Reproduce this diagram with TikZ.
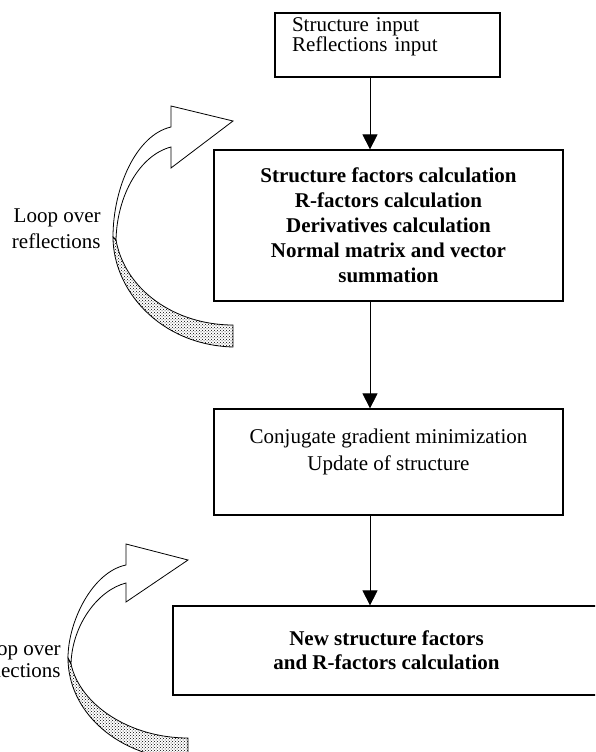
\documentclass[tikz,border=0pt]{standalone}
\usepackage{fontspec}
\setmainfont{Liberation Serif}
\usetikzlibrary{arrows.meta,patterns}

\tikzset{every picture/.style={line width=0.8pt}}
\tikzset{
	stepbox/.style={draw, line width=1.2pt, inner sep=0pt, align=center},
	looplabel/.style={anchor=east, align=right, inner sep=0pt},
	flow/.style={-{Triangle[length=15pt,width=15pt]}},
	ribbon/.style={fill=white, line width=0.8pt},
	ribbonback/.style={pattern=crosshatch dots, pattern color=black, line width=0.8pt},
}

\begin{document}
\begin{tikzpicture}[x=1pt,y=1pt,yscale=-1,xscale=1]
	\path[use as bounding box, clip] (0,0) rectangle (595,752);

	\node[stepbox, minimum width=225pt, minimum height=64pt, text width=191pt, align=left, text depth=41pt, font=\fontsize{21}{18}\selectfont] (inbox) at (387.5,45) {Structure input\\Reflections input};
	\node[stepbox, minimum width=349pt, minimum height=151pt, font=\bfseries\fontsize{21}{25}\selectfont] (calcbox) at (388.5,225.5) {Structure factors calculation\\R-factors calculation\\Derivatives calculation\\Normal matrix and vector\\summation};
	\node[stepbox, minimum width=349pt, minimum height=106pt, text depth=25pt, font=\fontsize{21}{27}\selectfont] (cgbox) at (388.5,462) {Conjugate gradient minimization\\Update of structure};
	\node[stepbox, minimum width=427pt, minimum height=89pt, font=\bfseries\fontsize{21}{24}\selectfont] (newbox) at (386.5,650.5) {New structure factors\\and R-factors calculation};

	\coordinate (spine) at (370,0);
	\draw[flow] (inbox.south -| spine) -- (calcbox.north -| spine);
	\draw[flow] (calcbox.south -| spine) -- (cgbox.north -| spine);
	\draw[flow] (cgbox.south -| spine) -- (newbox.north -| spine);

	% loop ribbons
	\draw[ribbon] (116,240) .. controls (117,195) and (140,155) .. (171,147) -- (171,168) -- (233,121) -- (171,106) -- (171,127) .. controls (136,135) and (113,188) .. (113,237) -- cycle;
	\draw[ribbonback] (113,237) .. controls (113,290) and (160,345) .. (233,347) -- (233,325) .. controls (175,325) and (125,290) .. (116,240) -- cycle;
	\draw[ribbon] (71,664) .. controls (72,625) and (98,590) .. (126,583) -- (126,602) -- (188,560) -- (126,544) -- (126,565) .. controls (92,572) and (68,622) .. (68,658) -- cycle;
	\draw[ribbonback] (68,658) .. controls (68,712) and (118,758) .. (188,760) -- (188,738) .. controls (130,738) and (80,705) .. (71,664) -- cycle;

	\node[looplabel, font=\fontsize{21}{26}\selectfont] (loopa) at (101,229) {Loop over\\reflections};
	\node[looplabel, font=\fontsize{21}{22}\selectfont] (loopb) at (61,660) {Loop over\\reflections};
\end{tikzpicture}
\end{document}
